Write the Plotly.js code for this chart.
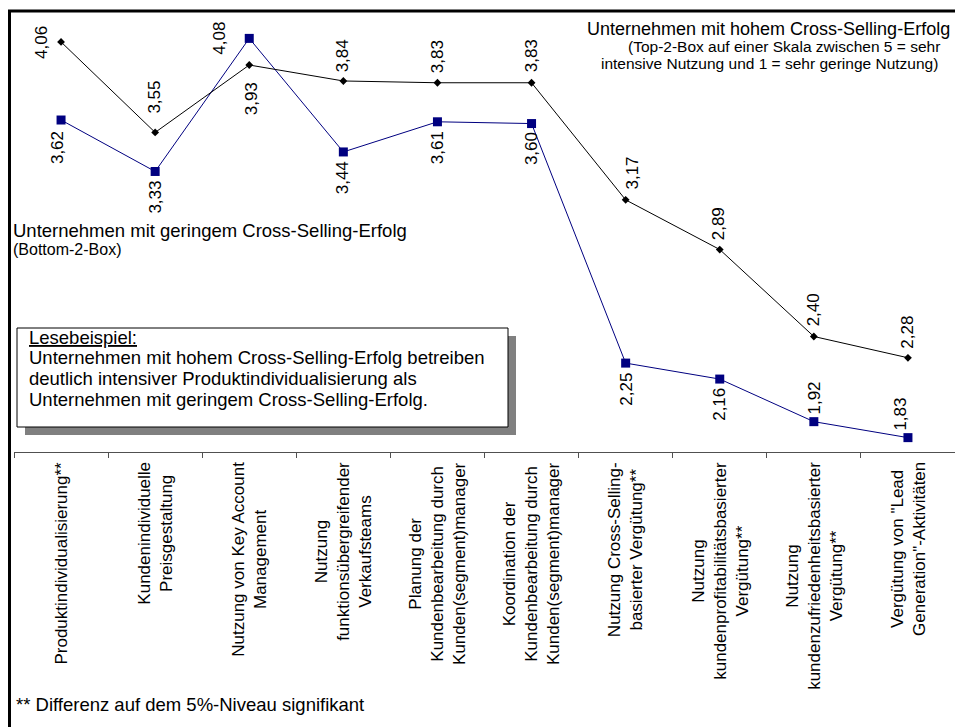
<!DOCTYPE html>
<html>
<head>
<meta charset="utf-8">
<script src="https://cdn.plot.ly/plotly-3.0.1.min.js"></script>
<style>
  html, body { margin: 0; padding: 0; background: #ffffff; }
  #chart { width: 955px; height: 727px; }
</style>
</head>
<body>
<div id="chart"></div>
<script>
// Cross-selling instruments: usage by companies with high vs. low cross-selling success
const categories = [
  'Produktindividualisierung**',
  'Kundenindividuelle<br>Preisgestaltung',
  'Nutzung von Key Account<br>Management',
  'Nutzung<br>funktionsübergreifender<br>Verkaufsteams',
  'Planung der<br>Kundenbearbeitung durch<br>Kunden(segment)manager',
  'Koordination der<br>Kundenbearbeitung durch<br>Kunden(segment)manager',
  'Nutzung Cross-Selling-<br>basierter Vergütung**',
  'Nutzung<br>kundenprofitabilitätsbasierter<br>Vergütung**',
  'Nutzung<br>kundenzufriedenheitsbasierter<br>Vergütung**',
  'Vergütung von "Lead<br>Generation"-Aktivitäten'
];
const highSuccess = [4.06, 3.55, 3.93, 3.84, 3.83, 3.83, 3.17, 2.89, 2.40, 2.28];
const lowSuccess  = [3.62, 3.33, 4.08, 3.44, 3.61, 3.60, 2.25, 2.16, 1.92, 1.83];

const highTitle = 'Unternehmen mit hohem Cross-Selling-Erfolg';
const highNote = ['(Top-2-Box auf einer Skala zwischen 5 = sehr', 'intensive Nutzung und 1 = sehr geringe Nutzung)'];
const lowTitle = 'Unternehmen mit geringem Cross-Selling-Erfolg';
const lowNote = '(Bottom-2-Box)';
const exampleLines = [
  '<u>Lesebeispiel:</u>',
  'Unternehmen mit hohem Cross-Selling-Erfolg betreiben',
  'deutlich intensiver Produktindividualisierung als',
  'Unternehmen mit geringem Cross-Selling-Erfolg.'
];
const footnote = '** Differenz auf dem 5%-Niveau signifikant';

// label placement offsets in pixels [dx, dy] (dy > 0 means downward)
const highLabelOffsets = [[-19, 1], [-1, -35], [2, 34], [0, -25], [0, -26], [0, -27], [7, -27], [-1, -26], [0, -27], [0, -26]];
const lowLabelOffsets  = [[-4, 28], [0, 26], [-30, 0], [0, 26], [0, 26], [0, 25], [0, 26], [-1, 25], [1, -24], [-7, -24]];

// plot area geometry (pixels)
const M = { l: 14, r: 0, t: 10, b: 275 };
const FW = 955, FH = 727;
const PW = FW - M.l - M.r, PH = FH - M.t - M.b;
const px = (x) => (x - M.l) / PW;
const py = (y) => (FH - M.b - y) / PH;

const FONT = 'Arial, "Liberation Sans", sans-serif';
const fmt = (v) => v.toFixed(2).replace('.', ',');

const traces = [
  {
    x: categories, y: lowSuccess, type: 'scatter', mode: 'lines+markers',
    line: { color: '#000080', width: 1 },
    marker: { symbol: 'square', size: 9, color: '#000080' },
    hoverinfo: 'skip', cliponaxis: false
  },
  {
    x: categories, y: highSuccess, type: 'scatter', mode: 'lines+markers',
    line: { color: '#000000', width: 1 },
    marker: { symbol: 'diamond', size: 6, color: '#000000' },
    hoverinfo: 'skip', cliponaxis: false
  }
];

const annotations = [];
function valueLabel(i, v, off) {
  annotations.push({
    x: categories[i], y: v, xref: 'x', yref: 'y',
    text: fmt(v), textangle: -90, showarrow: false,
    xanchor: 'center', yanchor: 'middle',
    xshift: off[0], yshift: -off[1],
    font: { family: FONT, size: 17, color: '#000' }
  });
}
highSuccess.forEach((v, i) => valueLabel(i, v, highLabelOffsets[i]));
lowSuccess.forEach((v, i) => valueLabel(i, v, lowLabelOffsets[i]));

// category labels under the axis
categories.forEach((c) => {
  annotations.push({
    x: c, y: 0, xref: 'x', yref: 'paper',
    text: c, textangle: -90, showarrow: false,
    xanchor: 'center', yanchor: 'top', yshift: -8, align: 'center',
    font: { family: FONT, size: 17, color: '#000' }
  });
});

function textAt(x, y, text, size) {
  annotations.push({
    x: px(x), y: py(y), xref: 'paper', yref: 'paper',
    text: text, showarrow: false, xanchor: 'left', yanchor: 'middle', align: 'left',
    borderpad: 0,
    font: { family: FONT, size: size, color: '#000' }
  });
}
textAt(586, 29, highTitle, 18);
textAt(627, 46.5, highNote[0], 15.5);
textAt(600, 63, highNote[1], 15.5);
textAt(12, 230, lowTitle, 18.5);
textAt(12, 249, lowNote, 16);
const exampleY = [337, 357, 378, 399];
exampleLines.forEach((t, i) => textAt(28, exampleY[i], t, 18.5));
textAt(15, 704, footnote, 18.5);

const shapes = [
  // reading-example box with drop shadow
  { type: 'rect', xref: 'paper', yref: 'paper', x0: px(25), x1: px(516), y0: py(336), y1: py(435),
    fillcolor: '#808080', line: { width: 0 }, layer: 'above' },
  { type: 'rect', xref: 'paper', yref: 'paper', x0: px(17), x1: px(508), y0: py(328), y1: py(427),
    fillcolor: '#ffffff', line: { color: '#000', width: 1 }, layer: 'above' },
  // chart frame
  { type: 'path', xref: 'paper', yref: 'paper',
    path: `M ${px(9.5)} ${py(760)} L ${px(9.5)} ${py(11)} L ${px(990)} ${py(11)}`,
    line: { color: '#000', width: 3 }, layer: 'above' }
];

const layout = {
  width: FW, height: FH,
  margin: M,
  paper_bgcolor: '#ffffff', plot_bgcolor: '#ffffff',
  showlegend: false,
  font: { family: FONT, color: '#000' },
  xaxis: {
    type: 'category', range: [-0.5, 9.5], tickson: 'boundaries',
    ticks: 'outside', ticklen: 5, tickcolor: '#505050', tickwidth: 1,
    showline: true, linecolor: '#505050', linewidth: 1,
    showgrid: false, zeroline: false, showticklabels: false, fixedrange: true
  },
  yaxis: {
    range: [1.749, 4.240], visible: false, showgrid: false, zeroline: false, fixedrange: true
  },
  annotations: annotations,
  shapes: shapes
};

Plotly.newPlot('chart', traces, layout, { displayModeBar: false, staticPlot: true });
</script>
</body>
</html>
